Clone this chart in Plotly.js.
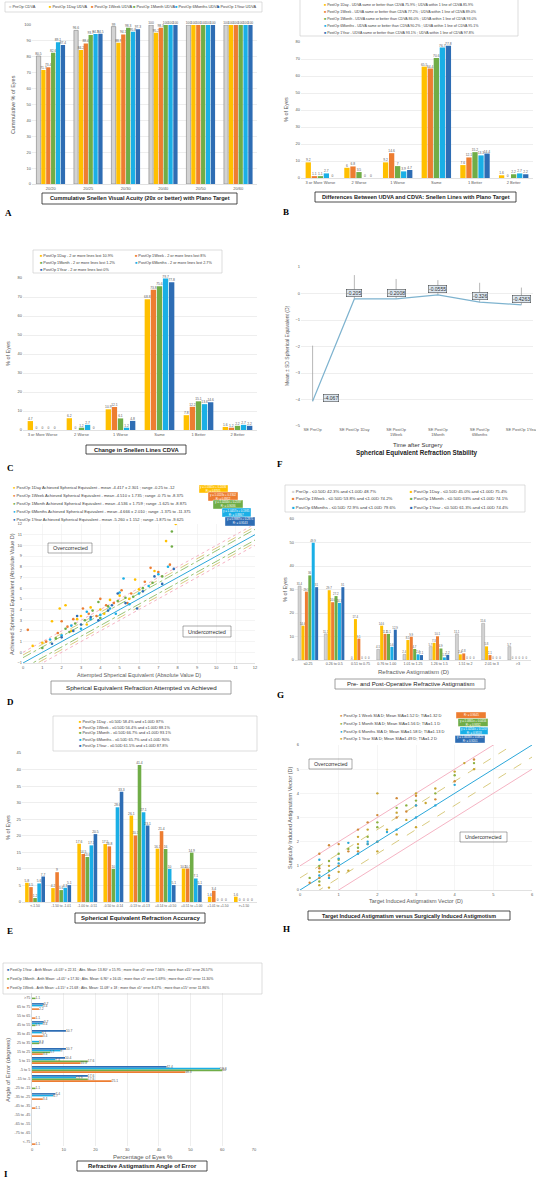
<!DOCTYPE html>
<html><head><meta charset="utf-8">
<script src="https://cdn.plot.ly/plotly-3.0.1.min.js"></script>
<style>html,body{margin:0;padding:0;background:#fff;}#chart{width:536px;height:1179px;}</style>
</head><body><div id="chart"></div>
<script>
// ---------- Panel A ----------
const aCats = ["20/20","20/25","20/30","20/40","20/50","20/60"];
const aPreOp   = [80.5, 96.6, 99.0, 100, 100, 100];
const a1Day    = [71.7, 84.2, 88.9, 95.2, 100, 100];
const a1Week   = [73.4, 88.4, 94.1, 98.3, 100, 100];
const a1Month  = [82.6, 93.7, 98.3, 100, 100, 100];
const a6Months = [89.1, 94.3, 95.8, 100, 100, 100];
const a1Year   = [87.4, 94.5, 97.3, 100, 100, 100];
const aLegend = ["PreOp CDVA","PostOp 1Day UDVA","PostOp 1Week UDVA","PostOp 1Month UDVA","PostOp 6Months UDVA","PostOp 1Year UDVA"];
// ---------- Panel B ----------
const bCats = ["3 or More Worse","2 Worse","1 Worse","Same","1 Better","2 Better"];
const b1Day    = [9.2, 6.0, 9.2, 65.5, 7.6, 1.6];
const b1Week   = [1.1, 6.8, 14.6, 64.4, 12.1, 0];
const b1Month  = [1.1, 3.5, 7.0, 70.6, 15.2, 2.2];
const b6Months = [2.7, 0, 3.9, 76.7, 13.3, 2.7];
const b1Year   = [0, 0, 4.7, 77.8, 14.4, 2.2];
const bLegend = [
 "PostOp 1Day - UDVA same or better than CDVA 75.9% ; UDVA within 1 line of CDVA 85.9%",
 "PostOp 1Week - UDVA same or better than CDVA 77.2% ; UDVA within 1 line of CDVA 89.0%",
 "PostOp 1Month - UDVA same or better than CDVA 86.0% ; UDVA within 1 line of CDVA 93.0%",
 "PostOp 6Months - UDVA same or better than CDVA 90.2% ; UDVA within 1 line of CDVA 95.1%",
 "PostOp 1Year - UDVA same or better than CDVA 93.1% ; UDVA within 1 line of CDVA 97.8%"];
// ---------- Panel C ----------
const cCats = ["3 or More Worse","2 Worse","1 Worse","Same","1 Better","2 Better"];
const c1Day    = [4.7, 6.2, 10.9, 68.8, 7.8, 1.6];
const c1Week   = [0, 0, 12.1, 73.8, 12.2, 1.2];
const c1Month  = [0, 1.2, 6.1, 75.6, 15.1, 2.2];
const c6Months = [0, 2.7, 1.2, 79.7, 13.6, 2.7];
const c1Year   = [0, 0, 4.8, 77.8, 14.6, 2.2];
const cLegend = ["PostOp 1Day - 2 or more lines lost 10.9%","PostOp 1Week - 2 or more lines lost 8%","PostOp 1Month - 2 or more lines lost 1.2%","PostOp 6Months - 2 or more lines lost 2.7%","PostOp 1Year - 2 or more lines lost 0%"];
// ---------- Panel F ----------
const fCats = ["SE PreOp","SE PostOp 1Day","SE PostOp<br>1Week","SE PostOp<br>1Month","SE PostOp<br>6Months","SE PostOp 1Year"];
const fMean = [-4.067, -0.205, -0.2008, -0.0555, -0.326, -0.4263];
const fSD   = [2.1, 0.9, 0.75, 0.56, 0.73, 0.65];
// ---------- Panel D ----------
const d1DayX = [0.5,1.0,1.5,1.9,2.2,2.5,2.8,3.0,3.3,3.5,4.0,4.2,4.5,5.0,5.5,5.8,6.0,6.8,7.4,7.9];
const d1DayY = [0.6,0.9,2.9,4.1,4.4,2.0,3.1,3.4,2.6,4.2,4.0,3.6,4.9,5.3,5.0,6.8,5.9,7.6,10.4,12.0];
const d1WeekX = [0.25,1.2,1.8,2.0,2.3,2.6,3.1,3.4,3.8,4.0,4.3,4.7,5.1,5.4,5.6,6.3,6.6,7.0,7.6];
const d1WeekY = [2.1,1.0,1.8,2.9,2.4,3.1,4.1,3.6,3.4,5.0,4.4,4.6,5.8,4.6,5.5,6.6,7.9,7.5,8.2];
const d1MonthX = [1.0,1.7,2.2,2.4,2.7,3.2,3.6,3.9,4.0,4.4,4.9,5.3,5.7,6.2,6.7,7.2,7.7,7.7];
const d1MonthY = [0.4,1.3,2.2,1.9,2.7,3.0,3.9,4.7,3.2,4.3,4.8,5.1,5.2,6.0,6.5,7.1,11.3,9.9];
const d6MonthsX = [1.4,2.0,2.5,3.0,3.3,3.5,4.0,4.5,4.8,5.0,5.2,5.5,6.0,6.5,7.0,7.5];
const d6MonthsY = [1.2,1.6,2.5,2.2,3.8,3.1,3.5,4.1,3.6,5.6,6.9,4.5,5.5,6.2,7.3,8.0];
const d1YearX = [1.5,2.0,2.6,2.8,3.0,3.5,3.9,4.4,4.6,4.9,5.3,5.9,6.2,6.8,7.2,7.8];
const d1YearY = [0.8,1.4,2.0,3.4,2.6,3.3,3.0,3.9,4.4,5.5,4.6,4.1,5.7,7.1,6.4,7.8];
const dLegend = [
 "PostOp 1Day Achieved Spherical Equivalent - mean -4.417 ± 2.301 ; range -0.25 to -12",
 "PostOp 1Week Achieved Spherical Equivalent - mean -4.510 ± 1.735 ; range -0.75 to -8.375",
 "PostOp 1Month Achieved Spherical Equivalent - mean -4.536 ± 1.759 ; range -1.625 to -8.875",
 "PostOp 6Months Achieved Spherical Equivalent - mean -4.666 ± 2.010 ; range -1.375 to -11.375",
 "PostOp 1Year Achieved Spherical Equivalent - mean -5.260 ± 1.152 ; range -1.875 to -9.625"];
const dEq = ["y = 1.0341x + 0.2436<br>R² = 0.8745","y = 1.0118x + 0.3302<br>R² = 0.8912","y = 1.0204x + 0.2587<br>R² = 0.9036","y = 1.0457x + 0.1985<br>R² = 0.8867","y = 0.9987x + 0.2871<br>R² = 0.9143"];
const dRefX = [0, 12];
const dRefOffsets = [-1, -0.5, -1.5, -0.25, -1.75, 0, -2];
// ---------- Panel G ----------
const gCats = ["≤0.25","0.26 to 0.5","0.51 to 0.75","0.76 to 1.00","1.01 to 1.25","1.26 to 1.5","1.51 to 2","2.01 to 3",">3"];
const gPreOp    = [31.4, 11.1, 0, 4.5, 2.4, 5.7, 11.1, 15.6, 5.7];
const g1Day     = [14.6, 29.7, 17.4, 14.6, 8.5, 7.3, 2.4, 5.8, 0];
const g1Week    = [29.1, 24.6, 9.1, 11.1, 9.9, 10.1, 2.8, 2.1, 0];
const g1Month   = [36.0, 27.2, 0, 11.1, 4.7, 4.9, 0, 0, 0];
const g6Months  = [49.9, 24.3, 0, 5.6, 2.4, 1.1, 0, 0, 0];
const g1Year    = [31.0, 31.0, 0, 12.9, 2.1, 2.2, 0, 0, 0];
const gLegend = ["PreOp - ≤0.50D 42.3% and ≤1.00D 48.7%","PostOp 1Day - ≤0.50D 45.0% and ≤1.00D 75.4%","PostOp 1Week - ≤0.50D 53.8% and ≤1.00D 74.2%","PostOp 1Month - ≤0.50D 63% and ≤1.00D 74.1%","PostOp 6Months - ≤0.50D 72.9% and ≤1.00D 79.6%","PostOp 1Year - ≤0.50D 61.3% and ≤1.00D 74.4%"];
// ---------- Panel E ----------
const eCats = ["<-1.50","-1.50 to -1.01","-1.00 to -0.51","-0.50 to -0.14","-0.13 to +0.13","+0.14 to +0.50","+0.51 to +1.00","+1.01 to +1.50",">+1.50"];
const e1Day    = [5.8, 4.2, 17.6, 17.5, 26.1, 16.1, 10.1, 1.6, 1.6];
const e1Week   = [4.5, 9.0, 14.5, 16.8, 20.1, 21.4, 10.1, 3.4, 0];
const e1Month  = [1.2, 3.6, 13.6, 10.0, 41.4, 16.0, 14.9, 0, 0];
const e6Months = [5.6, 4.3, 17.1, 28.6, 27.1, 10.0, 7.1, 0, 0];
const e1Year   = [7.7, 5.1, 20.5, 33.3, 23.1, 5.1, 5.1, 0, 0];
const eLegend = ["PostOp 1Day - ±0.50D 58.4% and ±1.00D 87%","PostOp 1Week - ±0.50D 56.4% and ±1.00D 88.1%","PostOp 1Month - ±0.50D 66.7% and ±1.00D 93.1%","PostOp 6Months - ±0.50D 65.7% and ±1.00D 90%","PostOp 1Year - ±0.50D 61.5% and ±1.00D 87.8%"];
// ---------- Panel H ----------
const h1WeekX = [0.25,0.5,0.5,0.5,0.75,0.75,1,1,1.25,1.5,1.5,1.75,1.75,2,2,2.5,2.5,2.75,3,3,3.5,4,4.5];
const h1WeekY = [0.3,0.5,0.9,1.5,0.6,1.85,1.0,1.9,1.6,1.6,2.5,1.9,2.8,2.0,3.1,3.0,3.8,3.25,3.5,3.9,3.75,4.5,5.4];
const h1MonthX = [0.25,0.5,0.5,0.75,0.75,1,1,1.25,1.5,1.75,2,2,2.5,2.75,3,3.5,4,4.5];
const h1MonthY = [0.5,0.35,1.0,0.8,1.2,1.25,1.5,1.7,1.75,2.2,2.6,2.8,3.4,3.5,3.7,4.0,4.75,5.25];
const h6MonthsX = [0.5,0.5,0.75,1,1,1.25,1.5,1.75,1.75,2,2.25,2.5,3,3,3.5,4];
const h6MonthsY = [0.6,1.25,0.5,1.1,1.3,1.95,1.5,1.9,2.0,2.0,2.4,2.5,3.0,3.5,3.5,4.35];
const h1YearX = [0.5,0.5,0.75,0.75,1,1.25,1.5,1.5,1.75,2,2,2.25,2.5,2.5,2.75,3,3,3.25,3.5,4,4.25,4.5];
const h1YearY = [0.2,0.75,0.1,1.0,0.75,0.8,1.9,2.2,2.5,1.6,4.0,2.5,2.3,3.2,2.9,2.6,4.0,3.6,4.2,4.9,5.25,5.0];
const hLegend = ["PostOp 1 Week SIA D; Mean SIA=1.52 D; TIA=1.32 D","PostOp 1 Month SIA D; Mean SIA=1.56 D; TIA=1.1 D","PostOp 6 Months SIA D; Mean SIA=1.58 D; TIA=1.13 D","PostOp 1 Year SIA D; Mean SIA=1.49 D; TIA=1.2 D"];
const hEq = ["R² = 0.9645","y = 1.0861x + 0.0456<br>R² = 0.9332","y = 1.0254x + 0.1207<br>R² = 0.9518","y = 1.0633x + 0.0825<br>R² = 0.9201"];
const hRefX = [0, 6];
const hRefOffsets = [0, 0.5, -0.5, 1, -1];
// ---------- Panel I ----------
const iCats = [">75","65 to 75","55 to 65","45 to 55","35 to 45","25 to 35","15 to 25","5 to 15","-5 to 5","-15 to -5","-25 to -15","-35 to -25","-45 to -35","-55 to -45","-65 to -55","-75 to -65","<-75"];
const i1Year   = [0, 3.7, 0, 3.7, 10.7, 0, 10.7, 10.4, 42.4, 17.6, 0, 7.4, 0, 0, 0, 0, 0];
const i6Months = [0, 3.4, 0, 3.4, 3.1, 2.2, 9.0, 7.4, 59.3, 13.9, 0, 6.7, 0, 0, 0, 0, 0];
const i1Month  = [1.1, 0, 0, 1.1, 0, 2.2, 5.7, 17.6, 60.0, 17.6, 1.1, 0, 0, 0, 0, 0, 0];
const i1Week   = [0, 2.2, 1.1, 0, 3.4, 0, 3.4, 15.3, 48.3, 25.1, 0, 3.4, 1.1, 0, 0, 0, 1.1];
const iLegend = [
 "PostOp 1Year - Arith Mean: +6.03° ± 22.31 ; Abs. Mean: 13.80° ± 15.95 ; more than ±5° error 7.56% ; more than ±15° error 26.57%",
 "PostOp 1Month - Arith Mean: +4.01° ± 17.30 ; Abs. Mean: 6.90° ± 16.05 ; more than ±5° error 5.69% ; more than ±15° error 11.30%",
 "PostOp 1Week - Arith Mean: +4.15° ± 21.68 ; Abs. Mean: 11.08° ± 18 ; more than ±5° error 8.47% ; more than ±15° error 11.86%"];

// ---------- styling ----------
const W = 536, H = 1179;
const FONT = "Liberation Sans, Arial, sans-serif";
const SERIF = "Liberation Serif, Times New Roman, serif";
const C_PRE = '#D3D3D3', C_1D = '#FFC000', C_1W = '#ED7D31', C_1M = '#70AD47', C_6M = '#1AAFE6', C_1Y = '#2E6DB4';
const X = p => p / W, Y = p => 1 - p / H;
const traces = [], ann = [], shapes = [];

function T(x, y, text, o = {}) {
  const f = Object.assign({family: FONT, size: 4, color: '#404040'}, o.font || {});
  const a = Object.assign({xref: 'paper', yref: 'paper', x: X(x), y: Y(y), text: text, showarrow: false,
    xanchor: 'left', yanchor: 'middle'}, o);
  a.font = f; ann.push(a);
}
function R(x0, y0, x1, y1, o = {}) {
  shapes.push({type: 'rect', xref: 'paper', yref: 'paper', x0: X(x0), x1: X(x1), y0: Y(y1), y1: Y(y0),
    line: {color: o.lc || '#000', width: o.lw == null ? 0.8 : o.lw}, fillcolor: o.fill || 'rgba(0,0,0,0)', layer: 'above'});
}
function sw(c, label) { return '<span style="color:' + c + '">■</span> ' + label; }
function dot(c, label) { return '<span style="color:' + c + '">●</span> ' + label; }

function bars(xa, ya, cats, vals, color, o = {}) {
  const h = o.h;
  const t = {type: 'bar', xaxis: xa, yaxis: ya, marker: {color: color, line: {color: o.lc || color, width: o.lw || 0}},
    text: vals.map(v => (o.skipZero && v === 0) ? '' : String(v)), textposition: 'outside', constraintext: 'none',
    textfont: {family: FONT, size: o.ts || 3.3, color: '#595959'}, cliponaxis: false, showlegend: false, hoverinfo: 'skip'};
  if (h) { t.orientation = 'h'; t.y = cats; t.x = vals; } else { t.x = cats; t.y = vals; }
  traces.push(t);
}
function xa(p0, p1, o = {}) {
  return Object.assign({domain: [X(p0), X(p1)], showgrid: false, showline: true, linecolor: '#d9d9d9', linewidth: 0.8,
    ticks: '', tickangle: 0, tickfont: {family: FONT, size: 4, color: '#595959'}, zeroline: false, fixedrange: true}, o);
}
function ya(p0, p1, o = {}) {
  return Object.assign({domain: [Y(p1), Y(p0)], showgrid: true, gridcolor: '#e3e3e3', gridwidth: 0.6, showline: false,
    ticks: '', tickfont: {family: FONT, size: 4, color: '#595959'}, zeroline: false, fixedrange: true}, o);
}
const ytitle = (x, y, text, size) => T(x, y, text, {textangle: -90, xanchor: 'center', font: {size: size || 5.5, color: '#595959'}});
const titleBox = (x0, y0, x1, y1, text, size, lc) => { R(x0, y0, x1, y1, {lc: lc || '#222', lw: 0.8}); T((x0 + x1) / 2, (y0 + y1) / 2, text, {xanchor: 'center', font: {size: size, color: '#222'}}); };
const letter = (x, y, l) => T(x, y, '<b>' + l + '</b>', {font: {family: SERIF, size: 9, color: '#000'}});

// ---------- A ----------
bars('x', 'y', aCats, aPreOp, C_PRE, {lc: '#7f7f7f', lw: 0.6});
bars('x', 'y', aCats, a1Day, C_1D);
bars('x', 'y', aCats, a1Week, C_1W);
bars('x', 'y', aCats, a1Month, C_1M);
bars('x', 'y', aCats, a6Months, C_6M);
bars('x', 'y', aCats, a1Year, C_1Y);
R(5, 2, 262, 12, {lc: '#c8c8c8', lw: 0.6});
const aCols = [C_PRE, C_1D, C_1W, C_1M, C_6M, C_1Y];
const aLx = [7, 47, 89, 131, 173, 215];
aLegend.forEach((l, i) => T(aLx[i], 7, sw(aCols[i], l), {font: {size: 3.9}}));
ytitle(13, 105, 'Cummulative % of Eyes', 5.5);
titleBox(42, 193, 237, 204, '<b>Cummulative Snellen Visual Acuity (20x or better) with Plano Target</b>', 5.6);
letter(3, 213, 'A');

// ---------- B ----------
bars('x2', 'y2', bCats, b1Day, C_1D);
bars('x2', 'y2', bCats, b1Week, C_1W);
bars('x2', 'y2', bCats, b1Month, C_1M);
bars('x2', 'y2', bCats, b6Months, C_6M);
bars('x2', 'y2', bCats, b1Year, C_1Y);
R(300, -2, 518, 36, {lc: '#c8c8c8', lw: 0.6});
const bCols = [C_1D, C_1W, C_1M, C_6M, C_1Y];
bLegend.forEach((l, i) => T(322, 5 + i * 7, sw(bCols[i], l), {font: {size: 3.6}}));
ytitle(286, 110, '% of Eyes', 5.5);
titleBox(315, 192, 516, 202, '<b>Differences Between UDVA and CDVA: Snellen Lines with Plano Target</b>', 5.6);
letter(281, 212, 'B');

// ---------- C ----------
bars('x3', 'y3', cCats, c1Day, C_1D);
bars('x3', 'y3', cCats, c1Week, C_1W);
bars('x3', 'y3', cCats, c1Month, C_1M);
bars('x3', 'y3', cCats, c6Months, C_6M);
bars('x3', 'y3', cCats, c1Year, C_1Y);
R(33, 250, 222, 273, {lc: '#c8c8c8', lw: 0.6});
const cCols = [C_1D, C_1W, C_1M, C_6M, C_1Y];
const cPos = [[38, 256], [133, 256], [38, 263], [133, 263], [38, 270]];
cLegend.forEach((l, i) => T(cPos[i][0], cPos[i][1], sw(cCols[i], l), {font: {size: 3.8}}));
ytitle(8, 354, '% of Eyes', 5.5);
titleBox(86, 445, 186, 454, '<b>Change in Snellen Lines CDVA</b>', 5.8);
letter(5, 468, 'C');

// ---------- F ----------
traces.push({type: 'scatter', mode: 'lines', x: fCats, y: fMean, xaxis: 'x4', yaxis: 'y4',
  line: {color: '#7EB3CF', width: 1.2}, showlegend: false, hoverinfo: 'skip', cliponaxis: false,
  error_y: {type: 'data', symmetric: false, array: fSD, arrayminus: fSD.map(() => 0), color: '#9a9a9a', thickness: 0.7, width: 0}});
fMean.forEach((v, i) => ann.push({xref: 'x4', yref: 'y4', x: i, y: v, text: String(v), showarrow: false,
  xshift: i === 0 ? 18 : 0, yshift: i === 0 ? 3 : 6, bgcolor: '#dce6f0', bordercolor: '#333', borderwidth: 0.5, borderpad: 0.5,
  font: {family: FONT, size: 5, color: '#333'}}));
ytitle(287, 346, 'Mean ± SD Spherical Equivalent (D)', 5);
T(417, 445, 'Time after Surgery', {xanchor: 'center', font: {size: 6, color: '#333'}});
T(417, 453, '<b>Spherical Equivalent Refraction Stability</b>', {xanchor: 'center', font: {size: 6.3, color: '#222'}});
letter(275, 464, 'F');

// ---------- D ----------
const dRefStyle = [
  {color: '#2AA7DA', width: 1, dash: 'solid'},
  {color: '#6BAA3A', width: 0.7, dash: 'dashdot'}, {color: '#6BAA3A', width: 0.7, dash: 'dashdot'},
  {color: '#C8B44A', width: 0.7, dash: 'dash'}, {color: '#C8B44A', width: 0.7, dash: 'dash'},
  {color: '#F2A0B4', width: 0.8, dash: 'dot'}, {color: '#F2A0B4', width: 0.8, dash: 'dot'}];
dRefOffsets.forEach((off, i) => traces.push({type: 'scatter', mode: 'lines', x: dRefX, y: dRefX.map(v => v + off),
  xaxis: 'x5', yaxis: 'y5', line: dRefStyle[i], showlegend: false, hoverinfo: 'skip'}));
const dSeries = [[d1DayX, d1DayY, C_1D], [d1WeekX, d1WeekY, C_1W], [d1MonthX, d1MonthY, C_1M], [d6MonthsX, d6MonthsY, C_6M], [d1YearX, d1YearY, C_1Y]];
dSeries.forEach(s => traces.push({type: 'scatter', mode: 'markers', x: s[0], y: s[1], xaxis: 'x5', yaxis: 'y5',
  marker: {color: s[2], size: 2.6}, showlegend: false, hoverinfo: 'skip'}));
const dCols = [C_1D, C_1W, C_1M, C_6M, C_1Y];
const dLy = [487.5, 495.5, 503.5, 511.5, 519.5];
dLegend.forEach((l, i) => T(11, dLy[i], dot(dCols[i], l), {font: {size: 4.1}}));
const dBox = [[199, 485, 228, 493], [208, 492, 238, 501], [213, 500, 243, 509], [222, 508, 251, 517], [225, 517, 255, 526]];
dBox.forEach((b, i) => { R(b[0], b[1], b[2], b[3], {fill: dCols[i], lc: '#ffffff', lw: 0.4});
  T((b[0] + b[2]) / 2, (b[1] + b[3]) / 2, dEq[i], {xanchor: 'center', font: {size: 2.8, color: '#fff'}}); });
ytitle(12, 594, 'Achieved Spherical Equivalent (Absolute Value D)', 5.5);
T(139, 675, 'Attempted Shperical Equivalent (Absolute Value D)', {xanchor: 'center', font: {size: 5.5, color: '#595959'}});
R(48, 543, 92, 553, {lc: '#555', lw: 0.5});
T(70, 548, 'Overcorrected', {xanchor: 'center', font: {size: 5.5, color: '#333'}});
R(183, 626, 231, 637, {lc: '#555', lw: 0.5});
T(207, 631.5, 'Undercorrected', {xanchor: 'center', font: {size: 5.5, color: '#333'}});
titleBox(51, 681, 231, 694, 'Spherical Equivalent Refraction Attempted vs Achieved', 6.2, '#888');
letter(5, 702, 'D');

// ---------- G ----------
bars('x6', 'y6', gCats, gPreOp, C_PRE, {lc: '#9a9a9a', lw: 0.5, ts: 2.8});
bars('x6', 'y6', gCats, g1Day, C_1D, {ts: 2.8});
bars('x6', 'y6', gCats, g1Week, C_1W, {ts: 2.8});
bars('x6', 'y6', gCats, g1Month, C_1M, {ts: 2.8});
bars('x6', 'y6', gCats, g6Months, C_6M, {ts: 2.8});
bars('x6', 'y6', gCats, g1Year, C_1Y, {ts: 2.8});
R(285, 485, 525, 512, {lc: '#c8c8c8', lw: 0.6});
const gCols = [C_PRE, C_1D, C_1W, C_1M, C_6M, C_1Y];
gLegend.forEach((l, i) => T(i % 2 ? 408 : 290, 491 + Math.floor(i / 2) * 8, sw(gCols[i], l), {font: {size: 4.3}}));
ytitle(285, 590, '% of Eyes', 5.5);
T(413, 672, 'Refractive Astigmatism (D)', {xanchor: 'center', font: {size: 6, color: '#595959'}});
titleBox(335, 679, 485, 689, 'Pre- and Post-Operative Refractive Astigmatism', 6, '#888');
letter(275, 695, 'G');

// ---------- E ----------
bars('x7', 'y7', eCats, e1Day, C_1D);
bars('x7', 'y7', eCats, e1Week, C_1W);
bars('x7', 'y7', eCats, e1Month, C_1M);
bars('x7', 'y7', eCats, e6Months, C_6M);
bars('x7', 'y7', eCats, e1Year, C_1Y);
R(53, 716, 257, 751, {lc: '#c8c8c8', lw: 0.6});
const eCols = [C_1D, C_1W, C_1M, C_6M, C_1Y];
eLegend.forEach((l, i) => T(77, 721 + i * 6, sw(eCols[i], l), {font: {size: 3.9}}));
ytitle(8, 828, '% of Eyes', 5.5);
titleBox(75, 913, 205, 923, '<b>Spherical Equivalent Refraction Accuracy</b>', 6);
letter(5, 931, 'E');

// ---------- H ----------
const hRefStyle = [
  {color: '#2AA7DA', width: 1, dash: 'solid'},
  {color: '#C8B44A', width: 0.7, dash: 'dash'}, {color: '#C8B44A', width: 0.7, dash: 'dash'},
  {color: '#F2A0B4', width: 0.8, dash: 'solid'}, {color: '#F2A0B4', width: 0.8, dash: 'solid'}];
hRefOffsets.forEach((off, i) => traces.push({type: 'scatter', mode: 'lines', x: hRefX, y: hRefX.map(v => v + off),
  xaxis: 'x8', yaxis: 'y8', line: hRefStyle[i], showlegend: false, hoverinfo: 'skip'}));
const hCols = ['#D08A3A', '#8DB040', '#2BA8D8', '#C7A532'];
const hSeries = [[h1WeekX, h1WeekY], [h1MonthX, h1MonthY], [h6MonthsX, h6MonthsY], [h1YearX, h1YearY]];
hSeries.forEach((s, i) => traces.push({type: 'scatter', mode: 'markers', x: s[0], y: s[1], xaxis: 'x8', yaxis: 'y8',
  marker: {color: hCols[i], size: 2.4}, showlegend: false, hoverinfo: 'skip'}));
const hLy = [715, 723, 731, 738.5];
hLegend.forEach((l, i) => T(338, hLy[i], dot(hCols[i], l), {font: {size: 4.1}}));
const hBoxCols = [C_1W, C_1M, C_6M, C_1Y];
const hBox = [[456, 712, 486, 718.5], [458, 718.5, 488, 726.5], [460, 727, 488, 734.5], [455, 735.5, 485, 743]];
hBox.forEach((b, i) => { R(b[0], b[1], b[2], b[3], {fill: hBoxCols[i], lc: '#fff', lw: 0.4});
  T((b[0] + b[2]) / 2, (b[1] + b[3]) / 2, hEq[i], {xanchor: 'center', font: {size: 2.8, color: '#fff'}}); });
ytitle(290, 818, 'Surgically Induced Astigmatism Vector (D)', 5.5);
T(416, 901, 'Target Induced Astigmatism Vector (D)', {xanchor: 'center', font: {size: 5.5, color: '#595959'}});
R(309, 759, 352, 769, {lc: '#555', lw: 0.5});
T(330.5, 764, 'Overcorrected', {xanchor: 'center', font: {size: 5.3, color: '#333'}});
R(460, 832, 507, 842, {lc: '#555', lw: 0.5});
T(483.5, 837, 'Undercorrected', {xanchor: 'center', font: {size: 5.3, color: '#333'}});
titleBox(308, 911, 510, 920, '<b>Target Induced Astigmatism versus Surgically Induced Astigmotism</b>', 5.4);
letter(281, 929, 'H');

// ---------- I ----------
bars('x9', 'y9', iCats, i1Year, C_1Y, {h: true, skipZero: true});
bars('x9', 'y9', iCats, i6Months, C_6M, {h: true, skipZero: true});
bars('x9', 'y9', iCats, i1Month, C_1M, {h: true, skipZero: true});
bars('x9', 'y9', iCats, i1Week, C_1W, {h: true, skipZero: true});
R(3, 963, 262, 994, {lc: '#c8c8c8', lw: 0.6});
const iCols = [C_1Y, C_1M, C_1W];
iLegend.forEach((l, i) => T(5, 970 + i * 9, sw(iCols[i], l), {font: {size: 3.5}}));
ytitle(8, 1070, 'Angle of Error (degrees)', 6);
T(143, 1157, 'Percentage of Eyes %', {xanchor: 'center', font: {size: 6, color: '#595959'}});
titleBox(77, 1161, 207, 1171, '<b>Refractive Astigmatism Angle of Error</b>', 6);
letter(2, 1174, 'I');

const layout = {
  width: W, height: H, margin: {l: 0, r: 0, t: 0, b: 0}, paper_bgcolor: '#fff', plot_bgcolor: '#fff',
  showlegend: false, barmode: 'group', bargap: 0.22, bargroupgap: 0.12, font: {family: FONT},
  xaxis: xa(32, 257, {type: 'category', anchor: 'y'}),
  yaxis: ya(25, 184, {range: [0, 100], dtick: 10, anchor: 'x'}),
  xaxis2: xa(301, 533, {type: 'category', anchor: 'y2'}),
  yaxis2: ya(42, 178, {range: [0, 80], dtick: 10, anchor: 'x2'}),
  xaxis3: xa(23, 257, {type: 'category', anchor: 'y3'}),
  yaxis3: ya(278, 430, {range: [0, 80], dtick: 10, anchor: 'x3'}),
  xaxis4: xa(301, 533, {type: 'category', anchor: 'y4', showline: false, tickfont: {family: FONT, size: 4, color: '#595959'}}),
  yaxis4: ya(267, 426, {range: [-5, 1], dtick: 1, anchor: 'x4'}),
  xaxis5: xa(23, 255, {range: [0, 12], dtick: 1, anchor: 'y5', showgrid: true, gridcolor: '#ececec', gridwidth: 0.5}),
  yaxis5: ya(524, 663, {range: [-1, 12], dtick: 1, anchor: 'x5', gridcolor: '#ececec'}),
  xaxis6: xa(295, 531, {type: 'category', anchor: 'y6', tickfont: {family: FONT, size: 3.6, color: '#595959'}}),
  yaxis6: ya(519, 660, {range: [0, 60], dtick: 10, anchor: 'x6'}),
  xaxis7: xa(22, 257, {type: 'category', anchor: 'y7', tickfont: {family: FONT, size: 3.3, color: '#595959'}}),
  yaxis7: ya(753, 902, {range: [0, 45], dtick: 5, anchor: 'x7'}),
  xaxis8: xa(300, 532, {range: [0, 6], dtick: 1, anchor: 'y8', showgrid: true, gridcolor: '#ececec', gridwidth: 0.5}),
  yaxis8: ya(745, 890, {range: [0, 6], dtick: 1, anchor: 'x8', gridcolor: '#ececec'}),
  xaxis9: xa(32, 254, {range: [0, 70], dtick: 10, anchor: 'y9', showgrid: true, gridcolor: '#e3e3e3', gridwidth: 0.6, showline: false}),
  yaxis9: ya(993, 1146, {type: 'category', autorange: 'reversed', anchor: 'x9', showgrid: false, showline: true, linecolor: '#d9d9d9', tickfont: {family: FONT, size: 3.7, color: '#595959'}}),
  annotations: ann, shapes: shapes
};
Plotly.newPlot('chart', traces, layout, {staticPlot: true, displayModeBar: false});
</script></body></html>
